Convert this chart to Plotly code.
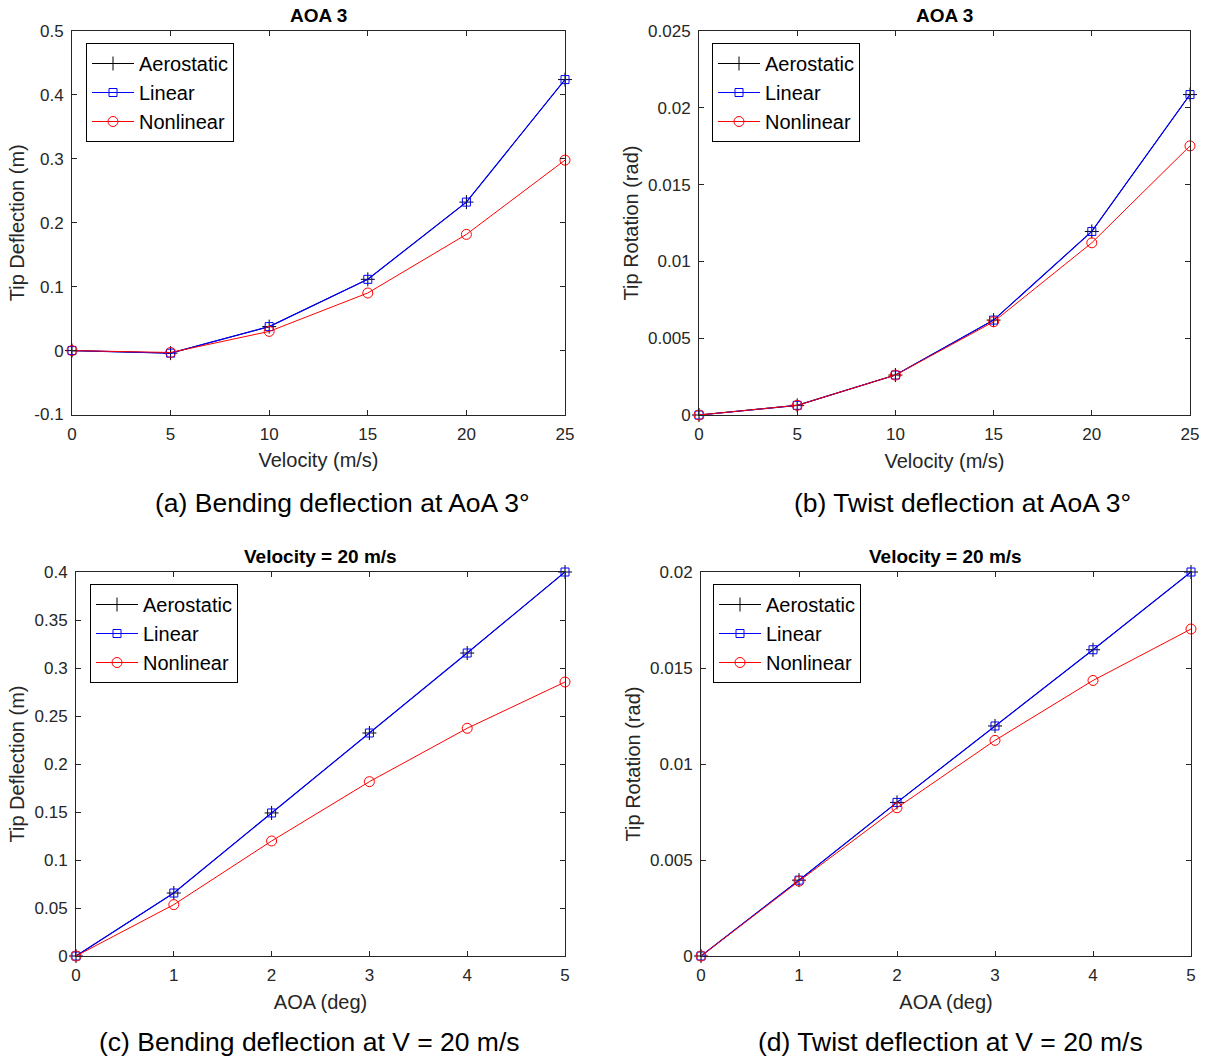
import plotly.graph_objects as go

# ---- data -------------------------------------------------------------
velocity = [0, 5, 10, 15, 20, 25]
aoa_deg = [0, 1, 2, 3, 4, 5]

# (a) bending at AoA 3 deg
bend_v_aero = [0.0, -0.004, 0.0375, 0.1115, 0.2323, 0.424]
bend_v_lin = [0.0, -0.004, 0.0375, 0.1115, 0.2323, 0.424]
bend_v_nl = [0.0, -0.003, 0.030, 0.0901, 0.1818, 0.298]

# (b) twist at AoA 3 deg
twist_v_aero = [0.0, 0.00063, 0.0026, 0.00618, 0.01195, 0.02086]
twist_v_lin = [0.0, 0.00063, 0.0026, 0.00618, 0.01195, 0.02086]
twist_v_nl = [0.0, 0.00063, 0.0026, 0.00607, 0.01121, 0.01752]

# (c) bending at V = 20 m/s
bend_a_aero = [0.0, 0.0656, 0.149, 0.2323, 0.3156, 0.400]
bend_a_lin = [0.0, 0.0656, 0.149, 0.2323, 0.3156, 0.400]
bend_a_nl = [0.0, 0.0535, 0.1198, 0.1816, 0.2372, 0.2854]

# (d) twist at V = 20 m/s
twist_a_aero = [0.0, 0.00395, 0.0080, 0.01198, 0.01595, 0.0200]
twist_a_lin = [0.0, 0.00395, 0.0080, 0.01198, 0.01595, 0.0200]
twist_a_nl = [0.0, 0.0039, 0.00772, 0.01123, 0.01435, 0.01703]

# tick values
xt_vel = [0, 5, 10, 15, 20, 25]
xt_aoa = [0, 1, 2, 3, 4, 5]
yt_a = [-0.1, 0, 0.1, 0.2, 0.3, 0.4, 0.5]
yt_b = [0, 0.005, 0.01, 0.015, 0.02, 0.025]
yt_c = [0, 0.05, 0.1, 0.15, 0.2, 0.25, 0.3, 0.35, 0.4]
yt_d = [0, 0.005, 0.01, 0.015, 0.02]

titles = ["AOA 3", "AOA 3", "Velocity = 20 m/s", "Velocity = 20 m/s"]
xlabels = ["Velocity (m/s)", "Velocity (m/s)", "AOA (deg)", "AOA (deg)"]
ylabels = ["Tip Deflection (m)", "Tip Rotation (rad)", "Tip Deflection (m)", "Tip Rotation (rad)"]
captions = [
    "(a) Bending deflection at AoA 3°",
    "(b) Twist deflection at AoA 3°",
    "(c) Bending deflection at V = 20 m/s",
    "(d) Twist deflection at V = 20 m/s",
]
series_names = ["Aerostatic", "Linear", "Nonlinear"]

# ---- layout geometry (pixels) -----------------------------------------
W, H = 1208, 1061
FONT = "Liberation Sans, Arial, Helvetica, sans-serif"
AXC = "#262626"

# panel boxes: left, right, top, bottom
boxes = [
    (72, 565, 31, 414.5),
    (699, 1190, 31, 415),
    (76, 565, 572, 956),
    (701, 1191, 572, 956),
]
xranges = [[0, 25], [0, 25], [0, 5], [0, 5]]
yranges = [[-0.1, 0.5], [0, 0.025], [0, 0.4], [0, 0.02]]
xticks = [xt_vel, xt_vel, xt_aoa, xt_aoa]
yticks = [yt_a, yt_b, yt_c, yt_d]
xdata = [velocity, velocity, aoa_deg, aoa_deg]
ydata = [
    (bend_v_aero, bend_v_lin, bend_v_nl),
    (twist_v_aero, twist_v_lin, twist_v_nl),
    (bend_a_aero, bend_a_lin, bend_a_nl),
    (twist_a_aero, twist_a_lin, twist_a_nl),
]
legend_pos = [(86, 43), (712, 43), (90, 584), (713, 584)]
caption_pos = [(342, 503), (962, 503), (309, 1042), (950, 1042)]

# the blue line is a touch wider so the identical black line under it
# does not darken it
styles = [
    dict(color="#000000", symbol="cross-thin-open", size=10, width=1),
    dict(color="#0000ff", symbol="square-open", size=8, width=1.2),
    dict(color="#ff0000", symbol="circle-open", size=10, width=1),
]

fig = go.Figure()
layout = dict(
    width=W,
    height=H,
    margin=dict(l=0, r=0, t=0, b=0, autoexpand=False),
    paper_bgcolor="white",
    plot_bgcolor="white",
    font=dict(family=FONT, color=AXC),
    showlegend=True,
)
annotations = []

for i in range(4):
    l, r, t, b = boxes[i]
    sfx = "" if i == 0 else str(i + 1)
    xa, ya = "xaxis" + sfx, "yaxis" + sfx
    xref, yref = "x" + sfx, "y" + sfx
    leg = "legend" if i == 0 else "legend" + str(i + 1)

    for k in range(3):
        st = styles[k]
        fig.add_trace(
            go.Scatter(
                x=xdata[i],
                y=ydata[i][k],
                name=series_names[k],
                mode="lines+markers",
                line=dict(color=st["color"], width=st["width"]),
                marker=dict(
                    symbol=st["symbol"],
                    size=st["size"],
                    color=st["color"],
                    line=dict(color=st["color"], width=1),
                ),
                xaxis=xref,
                yaxis=yref,
                legend=leg,
                cliponaxis=False,
            )
        )

    common = dict(
        showline=True,
        linecolor=AXC,
        linewidth=1,
        mirror="ticks",
        ticks="inside",
        ticklen=5,
        tickwidth=1,
        tickcolor=AXC,
        showgrid=False,
        zeroline=False,
        automargin=False,
        tickfont=dict(family=FONT, size=17, color=AXC),
    )
    layout[xa] = dict(
        common,
        domain=[l / W, r / W],
        range=xranges[i],
        tickvals=xticks[i],
        ticktext=[f"{v:g}" for v in xticks[i]],
        anchor=yref,
        ticklabelstandoff=4,
        title=dict(text=xlabels[i], font=dict(family=FONT, size=20, color=AXC), standoff=10),
    )
    layout[ya] = dict(
        common,
        domain=[1 - b / H, 1 - t / H],
        range=yranges[i],
        tickvals=yticks[i],
        ticktext=[f"{v:g}" for v in yticks[i]],
        anchor=xref,
        ticklabelstandoff=4,
        title=dict(text=ylabels[i], font=dict(family=FONT, size=20, color=AXC), standoff=4),
    )
    lx, ly = legend_pos[i]
    layout[leg] = dict(
        x=lx / W,
        y=1 - ly / H,
        xanchor="left",
        yanchor="top",
        xref="paper",
        yref="paper",
        bgcolor="white",
        bordercolor="#000000",
        borderwidth=1,
        font=dict(family=FONT, size=20, color="#000000"),
        itemwidth=42,
        tracegroupgap=0,
    )

    # panel title
    annotations.append(
        dict(
            text=titles[i],
            x=(l + r) / 2 / W,
            y=1 - (t - 16) / H,
            xref="paper",
            yref="paper",
            xanchor="center",
            yanchor="middle",
            showarrow=False,
            font=dict(family=FONT, size=19, color="#000000", weight="bold"),
        )
    )
    # caption under the panel
    cx, cy = caption_pos[i]
    annotations.append(
        dict(
            text=captions[i],
            x=cx / W,
            y=1 - cy / H,
            xref="paper",
            yref="paper",
            xanchor="center",
            yanchor="middle",
            showarrow=False,
            font=dict(family=FONT, size=26.5, color="#000000"),
        )
    )

layout["annotations"] = annotations
fig.update_layout(**layout)
fig.write_html("out.html")
